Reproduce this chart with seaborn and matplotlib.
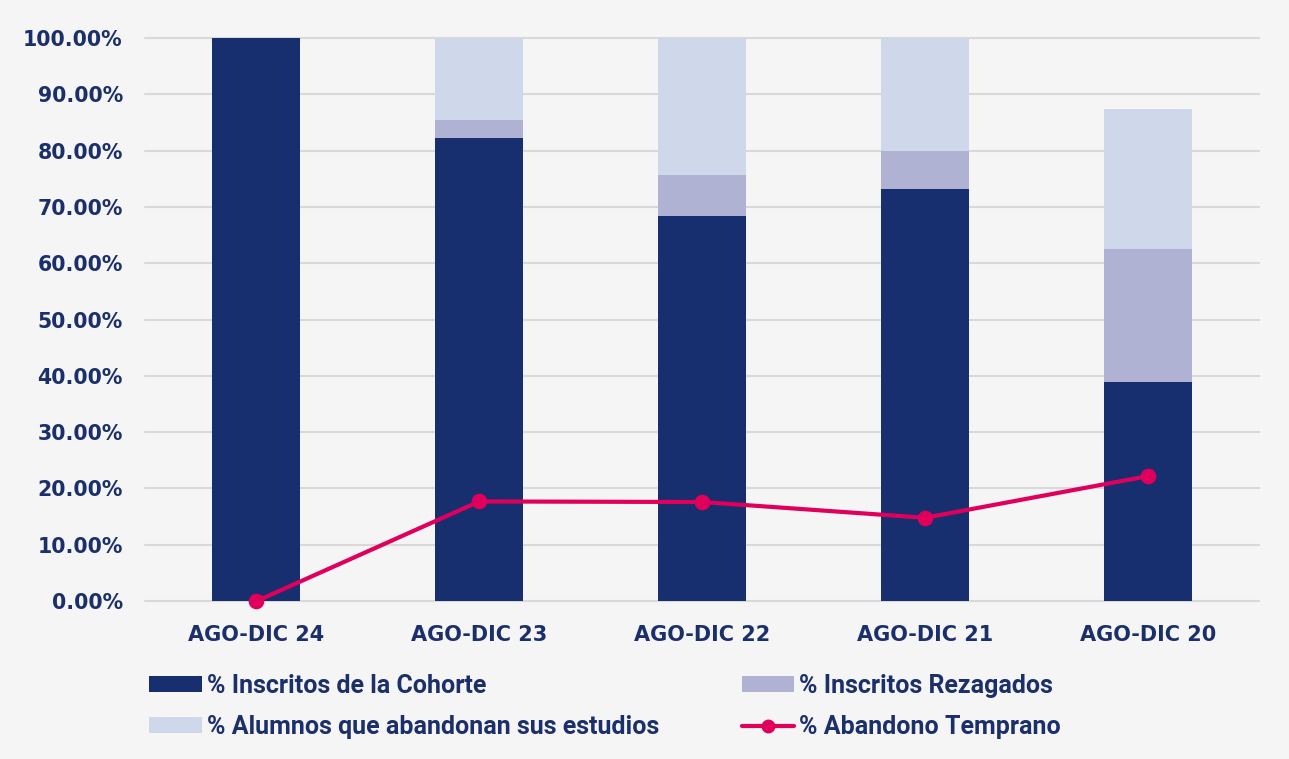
import matplotlib
matplotlib.use("Agg")
import matplotlib.pyplot as plt
from matplotlib import font_manager
from matplotlib.patches import Patch
from matplotlib.lines import Line2D
import seaborn as sns
import pandas as pd

categories = ["AGO-DIC 24", "AGO-DIC 23", "AGO-DIC 22", "AGO-DIC 21", "AGO-DIC 20"]
cohorte = [100.0, 82.3, 68.4, 73.1, 38.9]
rezagados = [0.0, 3.2, 7.3, 6.9, 23.6]
abandonan = [0.0, 14.5, 24.3, 20.0, 24.9]
abandono_temprano = [0.0, 17.7, 17.6, 14.8, 22.2]
yticks = [0, 10, 20, 30, 40, 50, 60, 70, 80, 90, 100]

names = ["% Inscritos de la Cohorte", "% Inscritos Rezagados",
         "% Alumnos que abandonan sus estudios", "% Abandono Temprano"]

C_DARK = "#172f6f"
C_MID = "#afb2d2"
C_LIGHT = "#cfd8ea"
C_LINE = "#e0005c"
TXT = "#1b2f6b"

sns.set_theme(style="white")
plt.rcParams["font.family"] = ["DejaVu Sans"]

avail = {f.name for f in font_manager.fontManager.ttflist}
leg_family = "Liberation Sans Narrow" if "Liberation Sans Narrow" in avail else "Roboto"

df = pd.DataFrame({
    "cat": categories,
    "c": cohorte,
    "cr": [a + b for a, b in zip(cohorte, rezagados)],
    "total": [a + b + c for a, b, c in zip(cohorte, rezagados, abandonan)],
    "line": abandono_temprano,
})

fig = plt.figure(figsize=(12.89, 7.59), dpi=100, facecolor="#f5f5f6")
ax = fig.add_axes([0.1125, 0.208, 0.8645, 0.742])
ax.set_facecolor("none")

w = 0.395
for col, colr in [("total", C_LIGHT), ("cr", C_MID), ("c", C_DARK)]:
    sns.barplot(data=df, x="cat", y=col, color=colr, width=w, saturation=1,
                linewidth=0, edgecolor="none", ax=ax, zorder=2)
sns.pointplot(data=df, x="cat", y="line", color=C_LINE, markers="o", markersize=9,
              linewidth=3, ax=ax, zorder=4)
for coll in ax.collections:
    coll.set_zorder(5)
for ln in ax.lines:
    ln.set_zorder(4)
    ln.set_clip_on(False)

ax.set_xlim(-0.5, 4.5)
ax.set_ylim(0, 100)
ax.set_yticks(yticks)
ax.set_yticklabels([f"{v:.2f}%" for v in yticks])
ax.grid(axis="y", color="#d9d9d9", linewidth=1.5, zorder=0)
for gl in ax.yaxis.get_gridlines():
    gl.set_clip_on(False)
ax.set_axisbelow(True)
for s in ax.spines.values():
    s.set_visible(False)
ax.set_xlabel("")
ax.set_ylabel("")
ax.tick_params(axis="y", length=0, pad=16, labelsize=14.8, labelcolor=TXT)
ax.tick_params(axis="x", length=0, pad=17, labelsize=15, labelcolor=TXT)
for t in ax.get_xticklabels() + ax.get_yticklabels():
    t.set_fontweight("bold")

handles = [
    Patch(facecolor=C_DARK, edgecolor="none"),
    Patch(facecolor=C_LIGHT, edgecolor="none"),
    Patch(facecolor=C_MID, edgecolor="none"),
    Line2D([0], [0], color=C_LINE, linewidth=3, marker="o", markersize=9),
]
labels = [names[0], names[2], names[1], names[3]]
leg = fig.legend(handles, labels, ncol=2, loc="upper left",
                 bbox_to_anchor=(0.0985, 0.1415), frameon=False,
                 prop={"family": leg_family, "size": 18, "weight": "bold"},
                 handlelength=2.1, handleheight=0.6, handletextpad=0.2,
                 columnspacing=3.3, labelspacing=0.68, labelcolor=TXT)

fig.savefig("out.png", dpi=100, facecolor=fig.get_facecolor())
